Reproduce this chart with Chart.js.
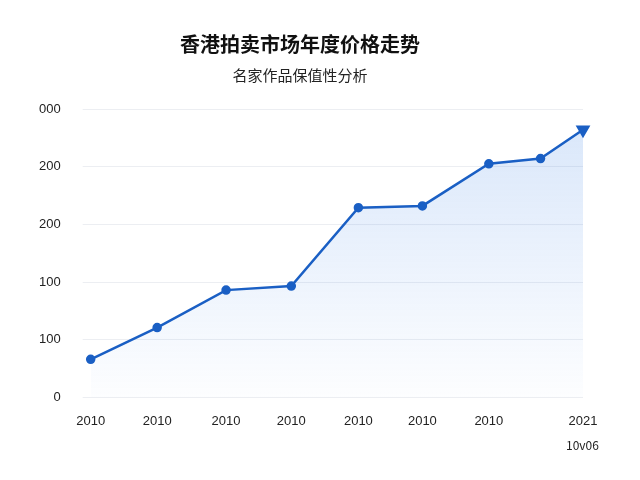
<!DOCTYPE html>
<html><head><meta charset="utf-8">
<script src="https://cdn.jsdelivr.net/npm/chart.js@4/dist/chart.umd.min.js"></script>
<style>body{margin:0;background:#fff}#w{width:640px;height:480px;position:relative}
#note{position:absolute;left:566px;top:436px;font:12px "Noto Sans CJK SC",sans-serif;color:#222}</style>
</head><body><div id="w"><canvas id="c" width="640" height="480"></canvas><div id="note">10v06</div></div>
<script>
// positions along x (uneven, as in the picture), values, labels
const xPos = [0, 1.08, 2.2, 3.26, 4.35, 5.39, 6.47, 7.31, 8];
const xLabels = ["2010", "2010", "2010", "2010", "2010", "2010", "2010", "", "2021"];
const values = [0.66, 1.21, 1.86, 1.93, 3.29, 3.32, 4.05, 4.14, 4.64];
const yLabels = ["0", "100", "100", "200", "200", "000"];

const ctx = document.getElementById("c");
new Chart(ctx, {
  type: "line",
  data: {
    datasets: [{
      data: values.map((v, i) => ({ x: xPos[i], y: v })),
      clip: false,
      borderColor: "#1a5fc4",
      borderWidth: 2.5,
      pointBackgroundColor: "#1a5fc4",
      pointBorderColor: "#1a5fc4",
      pointRadius: values.map((v, i) => i === values.length - 1 ? 6 : 3.5),
      pointStyle: values.map((v, i) => i === values.length - 1 ? "triangle" : "circle"),
      rotation: values.map((v, i) => i === values.length - 1 ? 60 : 0),
      tension: 0,
      fill: true,
      backgroundColor: (c) => {
        const a = c.chart.chartArea;
        if (!a) return "rgba(60,130,230,0.1)";
        const g = c.chart.ctx.createLinearGradient(0, a.top, 0, a.bottom);
        g.addColorStop(0, "rgba(60,130,230,0.2)");
        g.addColorStop(1, "rgba(60,130,230,0.01)");
        return g;
      }
    }]
  },
  options: {
    responsive: false,
    animation: false,
    layout: { padding: { left: 17, right: 57, top: 22, bottom: 43 } },
    plugins: {
      legend: { display: false },
      title: { display: true, text: "香港拍卖市场年度价格走势", color: "#111",
        font: { size: 20, weight: "bold", family: "Noto Sans CJK SC" }, padding: { top: 10, bottom: 10 } },
      subtitle: { display: true, text: "名家作品保值性分析", color: "#222",
        font: { size: 15, family: "Noto Sans CJK SC" }, padding: { bottom: 25 } }
    },
    scales: {
      x: {
        type: "linear", min: 0, max: 8,
        afterBuildTicks: (s) => { s.ticks = xPos.map(v => ({ value: v })); },
        ticks: { callback: (v, i) => xLabels[i], color: "#222", font: { size: 13 }, padding: 8, maxRotation: 0, autoSkip: false },
        grid: { display: false }, border: { display: false }
      },
      y: {
        min: 0, max: 5,
        ticks: { stepSize: 1, callback: (v) => yLabels[v], color: "#222", font: { size: 13 }, padding: 22 },
        grid: { color: "#eceef2" }, border: { display: false }
      }
    }
  }
});
</script></body></html>
